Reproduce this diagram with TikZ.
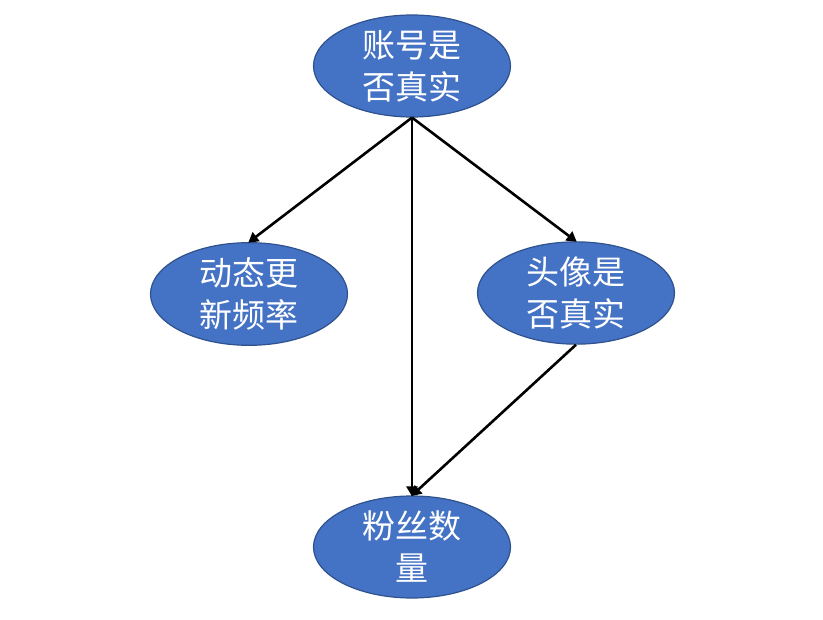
\documentclass[tikz,border=0pt]{standalone}
\usepackage{fontspec}
\newfontfamily\cjk{Noto Sans CJK SC}
\usetikzlibrary{shapes.geometric,arrows.meta}
\definecolor{nodefill}{HTML}{4472C4}
\definecolor{nodeedge}{HTML}{2F528F}
\tikzset{
  ell/.style={ellipse, draw=nodeedge, line width=1.2pt, fill=nodefill,
    minimum width=197pt, minimum height=102pt, inner sep=0pt,
    text=white, align=center,
    font=\cjk\fontsize{33}{42}\selectfont},
  arr/.style={line width=2.6pt, -{Triangle[length=10pt,width=11pt]}, shorten >=-1pt}
}
\begin{document}
\begin{tikzpicture}[x=1pt,y=-1pt]
\useasboundingbox (0,0) rectangle (823,620);
\node[ell] (acc) at (412,66) {账号是\\否真实};
\node[ell] (dyn) at (249,294) {动态更\\新频率};
\node[ell] (ava) at (576,293) {头像是\\否真实};
\node[ell] (fan) at (412,547) {粉丝数\\量};
\draw[arr] (acc.south) -- (dyn.north);
\draw[arr] (acc.south) -- (ava.north);
\draw[arr] (acc.south) -- (fan.north);
\draw[arr] (ava.south) -- (fan.north);
\end{tikzpicture}
\end{document}
